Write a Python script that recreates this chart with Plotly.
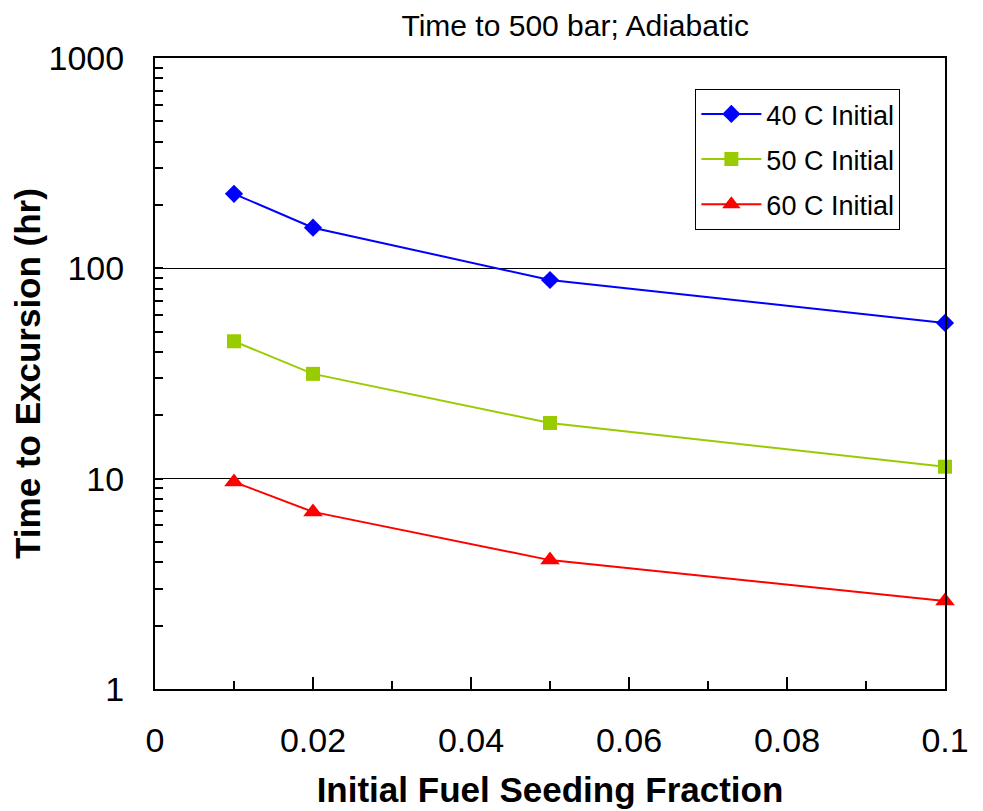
import plotly.graph_objects as go

fraction = [0.01, 0.02, 0.05, 0.1]
t40 = [226, 156, 88, 55]
t50 = [45, 31.5, 18.4, 11.4]
t60 = [9.65, 6.95, 4.1, 2.62]

x_tickvals = [0, 0.02, 0.04, 0.06, 0.08, 0.1]
x_ticktext = ["0", "0.02", "0.04", "0.06", "0.08", "0.1"]
y_tickvals = [1, 10, 100, 1000]
y_ticktext = ["1", "10", "100", "1000"]
y_minor_ticks = [m * d for d in (1, 10, 100) for m in range(2, 10)]

font_family = "Liberation Sans, Arial, sans-serif"

fig = go.Figure()
fig.add_trace(go.Scatter(x=fraction, y=t40, mode="lines+markers", name="40 C Initial",
                         legendgroup="a",
                         line=dict(color="#0000FF", width=2),
                         marker=dict(symbol="diamond", size=14, color="#0000FF"), cliponaxis=False))
fig.add_trace(go.Scatter(x=fraction, y=t50, mode="lines+markers", name="50 C Initial",
                         legendgroup="b",
                         line=dict(color="#99CC00", width=2),
                         marker=dict(symbol="square", size=14, color="#99CC00"), cliponaxis=False))
fig.add_trace(go.Scatter(x=fraction, y=t60, mode="lines+markers", name="60 C Initial",
                         legendgroup="c",
                         line=dict(color="#FF0000", width=2),
                         marker=dict(symbol="triangle-up", size=17, color="#FF0000"), cliponaxis=False))

fig.update_layout(
    width=983, height=811,
    margin=dict(l=147, r=46, t=50, b=130),
    paper_bgcolor="white", plot_bgcolor="white",
    font=dict(family=font_family, color="black", size=27),
    title=dict(text="Time to 500 bar; Adiabatic", x=0.577, xanchor="center",
               y=0.978, yanchor="middle", font=dict(size=30)),
    legend=dict(x=0.684, y=0.951, xanchor="left", yanchor="top",
                bordercolor="black", borderwidth=1, bgcolor="white",
                font=dict(size=27), itemwidth=60, tracegroupgap=7,
                traceorder="grouped"),
    showlegend=True,
)

fig.update_xaxes(
    range=[0, 0.1], tickvals=x_tickvals, ticktext=x_ticktext,
    ticks="inside", ticklen=12, tickwidth=2, tickcolor="black",
    minor=dict(dtick=0.01, ticks="inside", ticklen=8, tickwidth=2, tickcolor="black"),
    showline=True, linecolor="black", linewidth=2, mirror=True,
    showgrid=False, zeroline=False, tickfont=dict(size=34),
    ticklabelstandoff=20, automargin=False,
    title=dict(text="<b>Initial Fuel Seeding Fraction</b>", font=dict(size=35), standoff=20),
)
fig.update_yaxes(
    type="log", range=[0, 3], tickvals=y_tickvals, ticktext=y_ticktext,
    ticks="inside", ticklen=8, tickwidth=2, tickcolor="black",
    minor=dict(tickvals=y_minor_ticks, ticks="inside", ticklen=8, tickwidth=2,
               tickcolor="black", showgrid=False),
    showline=True, linecolor="black", linewidth=2, mirror=True,
    showgrid=True, gridcolor="black", gridwidth=1, zeroline=False,
    tickfont=dict(size=34), ticklabelstandoff=22, automargin=False,
    title=dict(text="<b>Time to Excursion (hr)</b>", font=dict(size=35), standoff=1),
)

fig.write_html("out.html")
